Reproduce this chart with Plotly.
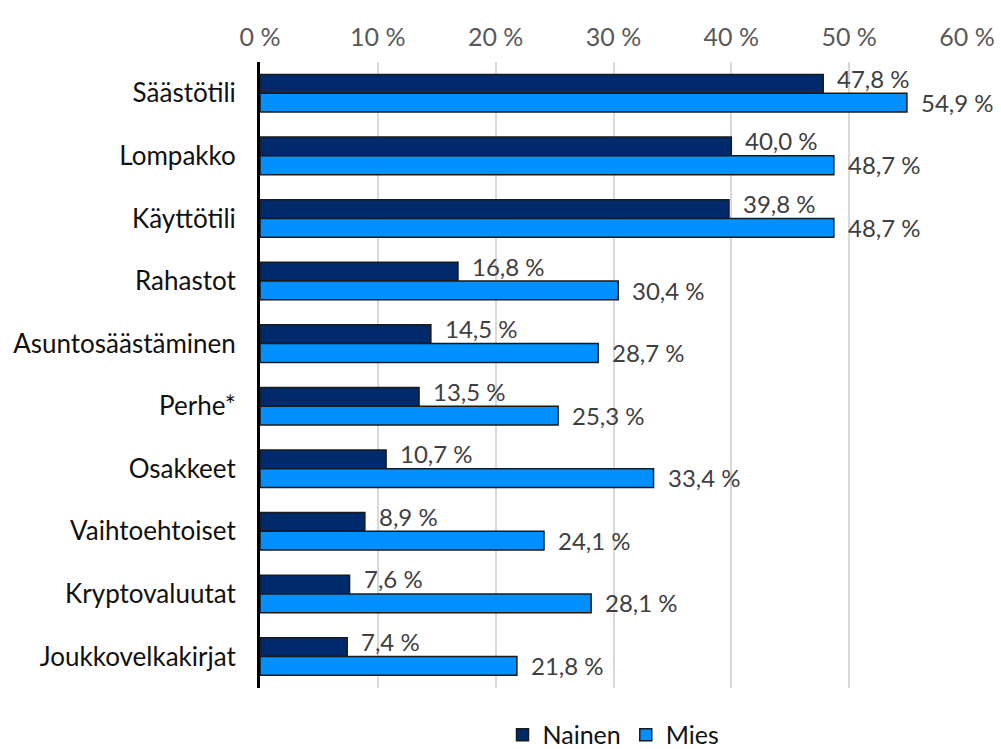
import plotly.graph_objects as go

categories = ["Säästötili", "Lompakko", "Käyttötili", "Rahastot", "Asuntosäästäminen",
              "Perhe*", "Osakkeet", "Vaihtoehtoiset", "Kryptovaluutat", "Joukkovelkakirjat"]
nainen = [47.8, 40.0, 39.8, 16.8, 14.5, 13.5, 10.7, 8.9, 7.6, 7.4]
mies = [54.9, 48.7, 48.7, 30.4, 28.7, 25.3, 33.4, 24.1, 28.1, 21.8]
tick_vals = [0, 10, 20, 30, 40, 50, 60]
tick_text = ["0 %", "10 %", "20 %", "30 %", "40 %", "50 %", "60 %"]

FONT = "Lato"
LABEL_FONT = dict(size=24, color="#404040", family=FONT)


def fmt(v):
    return f"{v:.1f}".replace(".", ",") + " %"


fig = go.Figure()
fig.add_trace(go.Bar(
    y=categories, x=nainen, name="Nainen", orientation="h",
    marker=dict(color="#002a6c", line=dict(color="#1a1a1a", width=1.5)),
))
fig.add_trace(go.Bar(
    y=categories, x=mies, name="Mies", orientation="h",
    marker=dict(color="#0090ff", line=dict(color="#1a1a1a", width=1.5)),
))

for cat, v in zip(categories, nainen):
    fig.add_annotation(x=v, y=cat, text=fmt(v), showarrow=False, xanchor="left",
                       yanchor="middle", xshift=12, yshift=15, font=LABEL_FONT)
for cat, v in zip(categories, mies):
    fig.add_annotation(x=v, y=cat, text=fmt(v), showarrow=False, xanchor="left",
                       yanchor="middle", xshift=12, yshift=-9, font=LABEL_FONT)

fig.update_layout(
    width=1001, height=749,
    barmode="group", bargap=0.4, bargroupgap=0.0,
    paper_bgcolor="white", plot_bgcolor="white",
    font=dict(family=FONT, size=25, color="#111111"),
    margin=dict(l=260, r=34, t=62, b=61, autoexpand=False),
    xaxis=dict(
        side="top", range=[0, 60], tickvals=tick_vals, ticktext=tick_text,
        showgrid=True, gridcolor="#d9d9d9", gridwidth=1.5,
        zeroline=False, showline=False, automargin=False,
        tickfont=dict(size=25, color="#595959", family=FONT),
        ticks="", ticklabelstandoff=10,
    ),
    yaxis=dict(
        autorange="reversed", showline=True, linecolor="black", linewidth=3,
        showgrid=False, ticks="", ticklabelstandoff=16, automargin=False,
        tickfont=dict(size=26, color="#111111", family=FONT),
    ),
    legend=dict(
        orientation="h", x=0.5, xanchor="center", y=-0.075, yanchor="middle",
        font=dict(size=25, color="#111111", family=FONT),
        itemwidth=30, traceorder="normal",
    ),
)

fig.write_html(
    "out.html",
    config={"displayModeBar": False},
    post_script="document.body.style.margin='0';document.body.style.overflow='hidden';",
)
